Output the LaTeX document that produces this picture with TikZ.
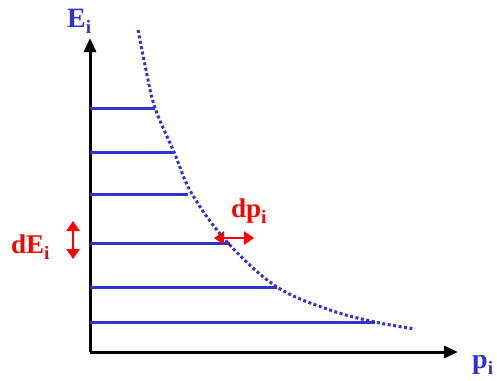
\documentclass[tikz,border=0pt]{standalone}
\usepackage{fontspec}
\setmainfont{Liberation Serif}
\usetikzlibrary{arrows.meta}
\definecolor{eblue}{RGB}{51,51,204}
\definecolor{ered}{RGB}{255,0,0}
\newcommand{\subi}{\raisebox{-6pt}{\fontsize{19}{20}\selectfont i}}
\tikzset{
  axis/.style={line width=3pt, draw=black, -{Triangle[length=14pt,width=12pt]}},
  level/.style={line width=3pt, draw=eblue},
  curve/.style={line width=3pt, draw=eblue, dotted, dash pattern=on 3pt off 2.5pt},
  redarrow/.style={line width=2.5pt, draw=ered, {Triangle[length=10pt,width=13pt]}-{Triangle[length=10pt,width=13pt]}},
  bluelbl/.style={text=eblue, font=\fontsize{28}{30}\selectfont\bfseries, inner sep=0pt, anchor=base west},
  redlbl/.style={text=ered, font=\fontsize{27}{29}\selectfont\bfseries, inner sep=0pt, anchor=base west}
}
\begin{document}
\begin{tikzpicture}[x=1pt,y=-1pt]
\useasboundingbox (0,0) rectangle (497,380);
\coordinate (O) at (90,352);
\coordinate (Ytop) at (90,38);
\coordinate (Xend) at (458,352);
\draw[axis] (O) -- (Ytop);
\draw[axis] (O) -- (Xend);
\node[bluelbl] (Ei) at (67,27) {E\subi};
\node[bluelbl] (pi) at (472,368) {p\subi};
% levels
\foreach \y/\x [count=\k] in {108/155,152/174,194/188,243/230,287/277,322/375}{
  \coordinate (L\k a) at (90,\y);
  \coordinate (L\k b) at (\x,\y);
  \draw[level] (L\k a) -- (L\k b);
}
% curve
\draw[curve] plot[smooth, tension=0.6] coordinates {(138,30) (146,70) (155,108) (174,152) (192,194) (228,243) (277,287) (330,310) (375,322) (415,329)};
% red arrows
\coordinate (dpA) at (214,238);
\coordinate (dpB) at (254,238);
\draw[redarrow] (dpA) -- (dpB);
\node[redlbl] (dp) at (231,217) {dp\subi};
\coordinate (deA) at (73,221);
\coordinate (deB) at (73,259);
\draw[redarrow] (deA) -- (deB);
\node[redlbl] (dE) at (11,253) {dE\subi};
\end{tikzpicture}
\end{document}
